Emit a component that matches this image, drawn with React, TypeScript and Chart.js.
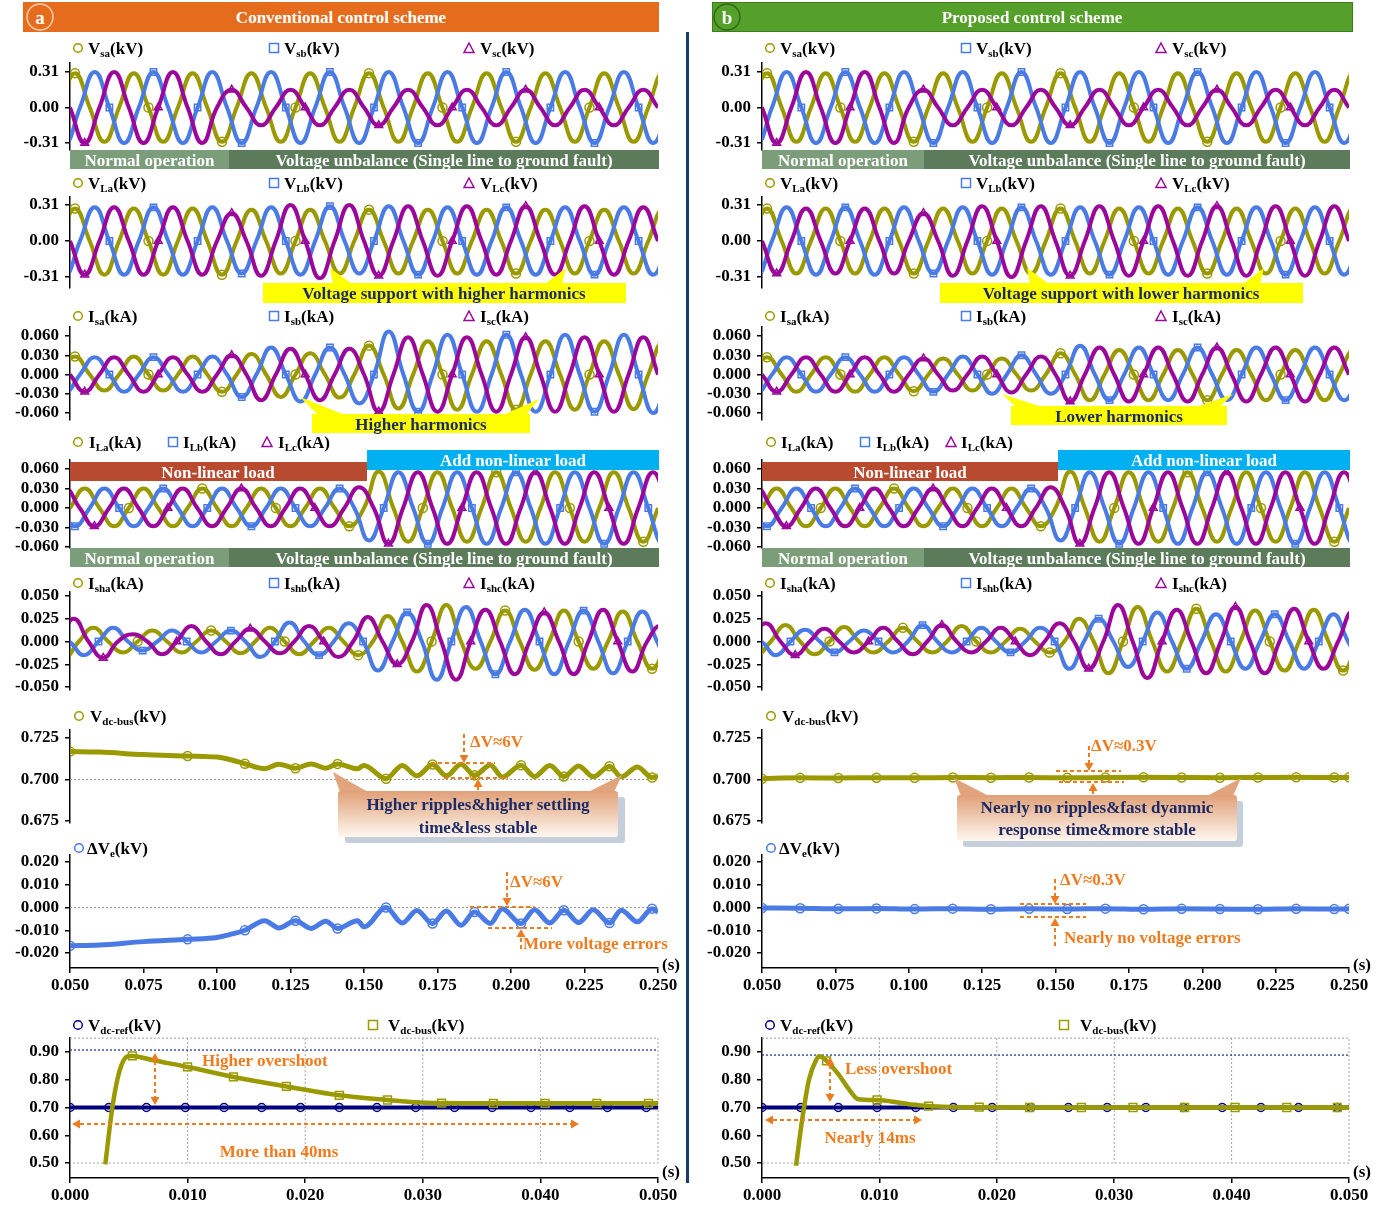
import React, { useEffect, useRef } from 'react';
import { Chart, registerables } from 'chart.js';

Chart.register(...registerables);

const FONT = '"Liberation Serif","Times New Roman",Times,serif';
const OLIVE = '#9a9a00';
const BLUE = '#4a7be4';
const MAGENTA = '#9b079b';
const NAVY = '#00007f';
const ORANGE = '#ef7b1f';
const INK = '#1c2a66';
const PERIOD = 0.02;

// ---------- tick labels ----------
const X_MAIN_TICKS = [0.05, 0.075, 0.1, 0.125, 0.15, 0.175, 0.2, 0.225, 0.25];
const X_START_TICKS = [0, 0.01, 0.02, 0.03, 0.04, 0.05];
const Y_V_TICKS = [0.31, 0, -0.31];
const Y_I_TICKS = [0.06, 0.03, 0, -0.03, -0.06];
const Y_SH_TICKS = [0.05, 0.025, 0, -0.025, -0.05];
const Y_DC_TICKS = [0.725, 0.7, 0.675];
const Y_E_TICKS = [0.02, 0.01, 0, -0.01, -0.02];
const Y_START_TICKS = [0.9, 0.8, 0.7, 0.6, 0.5];

// ---------- time of first extremum of each phase (a, b, c) ----------
const T0_V = [0.0517, 0.0484, 0.045];
const T0_IL = [0.045, 0.0517, 0.0483];
const T0_SH = [0.048, 0.0447, 0.0513];

// ---------- successive half-cycle extrema ----------
// source voltage (same in both schemes)
const VS_A = [0.30, -0.30, 0.30, -0.30, 0.30, -0.30, 0.30, -0.30, 0.30, -0.30, 0.30, -0.30, 0.30, -0.30, 0.30, -0.30, 0.30, -0.30, 0.30, -0.30, 0.30];
const VS_B = [-0.31, 0.31, -0.31, 0.31, -0.31, 0.31, -0.31, 0.31, -0.31, 0.31, -0.31, 0.31, -0.31, 0.31, -0.31, 0.31, -0.31, 0.31, -0.31, 0.31, -0.31];
const VS_C = [0.31, -0.31, 0.31, -0.31, 0.31, -0.31, 0.155, -0.155, 0.155, -0.155, 0.155, -0.155, 0.155, -0.155, 0.155, -0.155, 0.155, -0.155, 0.155, -0.155, 0.155, -0.155];

// load voltage
const VL_CONV_A = [0.28, -0.29, 0.28, -0.29, 0.28, -0.29, 0.27, -0.28, 0.27, -0.28, 0.27, -0.28, 0.27, -0.28, 0.27, -0.28, 0.27, -0.28, 0.27, -0.28, 0.27];
const VL_CONV_B = [-0.29, 0.29, -0.29, 0.29, -0.29, 0.29, -0.28, 0.29, -0.29, 0.30, -0.28, 0.30, -0.29, 0.29, -0.29, 0.29, -0.29, 0.29, -0.29, 0.29, -0.29];
const VL_CONV_C = [0.29, -0.29, 0.29, -0.29, 0.29, -0.29, 0.24, -0.30, 0.31, -0.32, 0.31, -0.30, 0.30, -0.30, 0.30, -0.29, 0.30, -0.29, 0.30, -0.29, 0.29, -0.29];
const VL_PROP_A = [0.28, -0.28, 0.28, -0.28, 0.28, -0.28, 0.28, -0.28, 0.28, -0.28, 0.28, -0.28, 0.28, -0.28, 0.28, -0.28, 0.28, -0.28, 0.28, -0.28, 0.28];
const VL_PROP_B = [-0.29, 0.29, -0.29, 0.29, -0.29, 0.29, -0.28, 0.29, -0.29, 0.29, -0.29, 0.29, -0.29, 0.29, -0.29, 0.29, -0.29, 0.29, -0.29, 0.29, -0.29];
const VL_PROP_C = [0.28, -0.28, 0.28, -0.28, 0.28, -0.28, 0.24, -0.30, 0.30, -0.31, 0.30, -0.30, 0.30, -0.30, 0.30, -0.30, 0.30, -0.30, 0.30, -0.30, 0.30, -0.30];

// source current
const IS_CONV_A = [0.028, -0.025, 0.028, -0.025, 0.028, -0.027, 0.032, -0.035, 0.033, -0.036, 0.045, -0.053, 0.052, -0.055, 0.052, -0.055, 0.052, -0.055, 0.052, -0.054, 0.050];
const IS_CONV_B = [-0.027, 0.027, -0.027, 0.027, -0.027, 0.028, -0.035, 0.042, -0.042, 0.042, -0.045, 0.067, -0.058, 0.062, -0.058, 0.062, -0.058, 0.062, -0.058, 0.062, -0.060];
const IS_CONV_C = [0.027, -0.027, 0.027, -0.027, 0.027, -0.027, 0.030, -0.040, 0.040, -0.040, 0.040, -0.058, 0.058, -0.058, 0.058, -0.058, 0.058, -0.058, 0.058, -0.058, 0.058, -0.058];
const IS_PROP_A = [0.027, -0.027, 0.027, -0.027, 0.027, -0.026, 0.025, -0.025, 0.025, -0.025, 0.033, -0.040, 0.038, -0.040, 0.038, -0.040, 0.038, -0.040, 0.038, -0.040, 0.038];
const IS_PROP_B = [-0.027, 0.027, -0.027, 0.027, -0.027, 0.027, -0.027, 0.028, -0.030, 0.030, -0.030, 0.045, -0.040, 0.042, -0.040, 0.042, -0.040, 0.042, -0.040, 0.042, -0.040];
const IS_PROP_C = [0.027, -0.027, 0.027, -0.027, 0.027, -0.027, 0.025, -0.025, 0.028, -0.028, 0.028, -0.042, 0.042, -0.042, 0.042, -0.042, 0.042, -0.042, 0.042, -0.042, 0.042, -0.042];

// load current (same in both schemes)
const IL_A = [-0.028, 0.030, -0.028, 0.030, -0.028, 0.030, -0.028, 0.030, -0.028, 0.030, -0.028, 0.056, -0.052, 0.055, -0.052, 0.055, -0.052, 0.055, -0.052, 0.055, -0.052, 0.055];
const IL_B = [-0.028, 0.030, -0.028, 0.030, -0.028, 0.030, -0.028, 0.030, -0.028, 0.030, -0.050, 0.055, -0.055, 0.055, -0.055, 0.055, -0.055, 0.055, -0.055, 0.055, -0.055];
const IL_C = [0.030, -0.028, 0.030, -0.028, 0.030, -0.028, 0.030, -0.028, 0.030, -0.028, 0.032, -0.055, 0.055, -0.055, 0.055, -0.055, 0.055, -0.055, 0.055, -0.055, 0.055];

// shunt current
const ISH_CONV_A = [-0.018, 0.015, -0.012, 0.012, -0.012, 0.012, -0.013, 0.015, -0.014, 0.015, -0.015, 0.028, -0.033, 0.040, -0.030, 0.034, -0.031, 0.034, -0.030, 0.033, -0.030];
const ISH_CONV_B = [0.005, -0.015, 0.015, -0.010, 0.012, -0.012, 0.012, -0.017, 0.021, -0.015, 0.020, -0.032, 0.032, -0.042, 0.038, -0.036, 0.035, -0.036, 0.034, -0.035, 0.033, -0.030];
const ISH_CONV_C = [0.025, -0.018, 0.008, -0.014, 0.017, -0.014, 0.014, -0.013, 0.017, -0.017, 0.027, -0.025, 0.040, -0.042, 0.035, -0.036, 0.032, -0.036, 0.035, -0.033, 0.018];
const ISH_PROP_A = [-0.015, 0.018, -0.014, 0.016, -0.012, 0.015, -0.012, 0.017, -0.012, 0.014, -0.012, 0.025, -0.035, 0.038, -0.033, 0.036, -0.033, 0.034, -0.032, 0.035, -0.032];
const ISH_PROP_B = [0.003, -0.015, 0.013, -0.012, 0.012, -0.012, 0.018, -0.012, 0.015, -0.012, 0.015, -0.030, 0.025, -0.028, 0.032, -0.030, 0.030, -0.030, 0.030, -0.030, 0.030, -0.025];
const ISH_PROP_C = [0.020, -0.015, 0.014, -0.012, 0.015, -0.014, 0.018, -0.012, 0.015, -0.015, 0.020, -0.030, 0.040, -0.040, 0.035, -0.035, 0.038, -0.035, 0.036, -0.030, 0.033];

// dc-bus voltage and its error, conventional scheme
const DC_CONV_T = [0.050, 0.060, 0.075, 0.090, 0.100, 0.104, 0.1095, 0.1162, 0.121, 0.1267, 0.132, 0.137, 0.141, 0.1478, 0.150, 0.1575, 0.163, 0.168, 0.1733, 0.178, 0.183, 0.1876, 0.193, 0.197, 0.2034, 0.208, 0.2132, 0.218, 0.223, 0.228, 0.2335, 0.2375, 0.243, 0.248, 0.250];
const VDC_CONV = [0.7168, 0.7165, 0.7150, 0.7142, 0.7135, 0.7122, 0.7095, 0.7065, 0.7092, 0.7068, 0.7094, 0.7068, 0.7094, 0.7065, 0.7085, 0.7005, 0.7085, 0.7022, 0.7090, 0.7022, 0.7092, 0.7025, 0.7088, 0.7015, 0.7086, 0.7018, 0.7084, 0.7018, 0.7082, 0.7016, 0.7080, 0.7016, 0.7075, 0.7012, 0.7022];
const DVE_CONV = [-0.0168, -0.0165, -0.0150, -0.0140, -0.0132, -0.0120, -0.0100, -0.0058, -0.0090, -0.0058, -0.0092, -0.0060, -0.0092, -0.0058, -0.0085, 0.0000, -0.0068, -0.0013, -0.0070, -0.0015, -0.0078, -0.0020, -0.0070, -0.0005, -0.0070, -0.0010, -0.0068, -0.0012, -0.0066, -0.0010, -0.0068, -0.0012, -0.0063, -0.0005, -0.0020];
// proposed scheme
const DC_PROP_T = [0.050, 0.063, 0.076, 0.089, 0.102, 0.115, 0.128, 0.141, 0.154, 0.167, 0.180, 0.193, 0.206, 0.219, 0.232, 0.245, 0.250];
const VDC_PROP = [0.7005, 0.7010, 0.7009, 0.7011, 0.7010, 0.7012, 0.7011, 0.7012, 0.7010, 0.7012, 0.7013, 0.7012, 0.7011, 0.7012, 0.7013, 0.7012, 0.7013];
const DVE_PROP = [-0.0002, -0.0003, -0.0006, -0.0004, -0.0007, -0.0005, -0.0008, -0.0006, -0.0007, -0.0005, -0.0008, -0.0006, -0.0007, -0.0008, -0.0006, -0.0007, -0.0006];

// start-up transient
const REF_T = [0, 0.0033, 0.0065, 0.0098, 0.0131, 0.0163, 0.0196, 0.0229, 0.0261, 0.0294, 0.0327, 0.0359, 0.0392, 0.0425, 0.0457, 0.049, 0.05];
const REF_V = [0.70, 0.70, 0.70, 0.70, 0.70, 0.70, 0.70, 0.70, 0.70, 0.70, 0.70, 0.70, 0.70, 0.70, 0.70, 0.70, 0.70];
const BUS_CONV_T = [0.0030, 0.0036, 0.0042, 0.0049, 0.0053, 0.0071, 0.0100, 0.0139, 0.0184, 0.0229, 0.0270, 0.0293, 0.0316, 0.0360, 0.0404, 0.0448, 0.0492, 0.0500];
const BUS_CONV_V = [0.495, 0.700, 0.830, 0.885, 0.886, 0.870, 0.846, 0.810, 0.776, 0.744, 0.727, 0.719, 0.716, 0.715, 0.715, 0.715, 0.715, 0.715];
const BUS_CONV_MARK = [4, 6, 7, 8, 9, 10, 12, 13, 14, 15, 16];
const BUS_PROP_T = [0.0029, 0.0034, 0.0040, 0.0046, 0.0049, 0.0055, 0.0065, 0.0075, 0.0082, 0.0098, 0.0110, 0.0125, 0.0142, 0.0160, 0.0185, 0.0228, 0.0272, 0.0316, 0.0360, 0.0403, 0.0447, 0.0490, 0.0500];
const BUS_PROP_V = [0.490, 0.650, 0.800, 0.870, 0.885, 0.868, 0.820, 0.760, 0.730, 0.727, 0.722, 0.712, 0.705, 0.702, 0.701, 0.700, 0.700, 0.700, 0.700, 0.700, 0.700, 0.700, 0.700];
const BUS_PROP_MARK = [5, 9, 12, 14, 15, 16, 17, 18, 19, 20, 21];
const OVERSHOOT_LIMIT = [0.907, 0.889];

// ---------- helpers ----------
function wave(t0: number, ext: number[]) {
  const pts = [{ x: t0 - PERIOD / 4, y: 0 }];
  ext.forEach((v, i) => {
    const t = t0 + (i * PERIOD) / 2;
    pts.push({ x: t, y: v });
    pts.push({ x: t + PERIOD / 4, y: 0 });
  });
  return pts;
}
function pairs(t: number[], v: number[]) {
  return t.map((x, i) => ({ x, y: v[i] }));
}
function line(data: any[], color: string, shape: string, every: number, offset: number, order: number, width = 4, r = 4.5, smooth = 'wave') {
  return {
    data,
    borderColor: color,
    borderWidth: width,
    cubicInterpolationMode: smooth === 'wave' ? 'default' : 'monotone',
    tension: 0.47,
    pointStyle: shape,
    pointRadius: (c: any) => (c.dataIndex % every === offset ? r : 0),
    pointBorderColor: color,
    pointBackgroundColor: 'rgba(255,255,255,0)',
    pointBorderWidth: 1.5,
    order,
    fill: false,
  };
}
function three(t0s: number[], a: number[], b: number[], c: number[]) {
  return [
    line(wave(t0s[0], a), OLIVE, 'circle', 5, 1, 2),
    line(wave(t0s[1], b), BLUE, 'rect', 3, 1, 1),
    line(wave(t0s[2], c), MAGENTA, 'triangle', 5, 3, 0),
  ];
}
function hLine(value: number, color: string, dash: number[], width: number) {
  return {
    id: 'hline',
    beforeDatasetsDraw(chart: any) {
      const { ctx, chartArea: a, scales } = chart;
      const y = scales.y.getPixelForValue(value);
      ctx.save();
      ctx.strokeStyle = color;
      ctx.lineWidth = width;
      ctx.setLineDash(dash);
      ctx.beginPath();
      ctx.moveTo(a.left, y);
      ctx.lineTo(a.right, y);
      ctx.stroke();
      ctx.restore();
    },
  };
}
const boxGrid = {
  id: 'boxGrid',
  beforeDatasetsDraw(chart: any) {
    const { ctx, scales } = chart;
    const x = scales.x, y = scales.y;
    const l = x.getPixelForValue(0), r = x.getPixelForValue(0.05);
    const t = y.getPixelForValue(0.95), b = y.getPixelForValue(0.5);
    ctx.save();
    ctx.strokeStyle = '#a0a0a0';
    ctx.lineWidth = 1;
    ctx.setLineDash([2, 2]);
    ctx.beginPath();
    ctx.moveTo(l, t); ctx.lineTo(r, t); ctx.lineTo(r, b); ctx.lineTo(l, b);
    for (const v of [0.01, 0.02, 0.03, 0.04]) {
      const px = x.getPixelForValue(v);
      ctx.moveTo(px, t); ctx.lineTo(px, b);
    }
    ctx.stroke();
    ctx.restore();
  },
};

const TICK_FONT = { family: FONT, size: 17, weight: 'bold' as const };

function Panel(p: any) {
  const ref = useRef<HTMLCanvasElement>(null);
  const PL = 64, PR = 34, PT = 20, XH = 28;
  const PB = p.xTicks ? 0 : 20;
  const k = (p.p1[0] - p.p2[0]) / (p.p2[1] - p.p1[1]);
  const yMax = p.p1[0] + (p.p1[1] - p.top) * k;
  const yMin = p.p1[0] - (p.bottom - p.p1[1]) * k;
  const w = p.width + PL + PR;
  const h = p.bottom - p.top + PT + (p.xTicks ? XH : PB);
  useEffect(() => {
    const chart = new Chart(ref.current as HTMLCanvasElement, {
      type: 'line',
      data: { datasets: p.datasets },
      options: {
        animation: false,
        responsive: false,
        events: [],
        layout: { padding: { left: 0, right: PR, top: PT, bottom: PB } },
        plugins: { legend: { display: false }, tooltip: { enabled: false } },
        scales: {
          x: {
            type: 'linear',
            min: p.xMin,
            max: p.xMax,
            display: !!p.xTicks,
            afterBuildTicks: (s: any) => {
              if (p.xTicks) s.ticks = p.xTicks.map((v: number) => ({ value: v }));
            },
            afterFit: (s: any) => { s.height = p.xTicks ? XH : 0; },
            ticks: { font: TICK_FONT, color: '#000', padding: 2, maxRotation: 0, autoSkip: false, callback: (v: any) => Number(v).toFixed(3) },
            grid: { drawOnChartArea: false, color: '#000', tickLength: 5, lineWidth: 1.5 },
            border: { color: '#000', width: 1.5 },
          },
          y: {
            type: 'linear',
            min: yMin,
            max: yMax,
            afterBuildTicks: (s: any) => { s.ticks = p.yTicks.map((v: number) => ({ value: v })); },
            afterFit: (s: any) => { s.width = PL; },
            ticks: { font: TICK_FONT, color: '#000', padding: 6, autoSkip: false, callback: (v: any) => Number(v).toFixed(p.yDec) },
            grid: { drawOnChartArea: false, color: '#000', tickLength: 5, lineWidth: 1.5 },
            border: { color: '#000', width: 1.5 },
          },
        },
      } as any,
      plugins: p.plugins || [],
    });
    return () => chart.destroy();
  }, []);
  return (
    <canvas
      ref={ref}
      width={w}
      height={h}
      style={{ position: 'absolute', left: p.left - PL, top: p.top - PT, width: w, height: h }}
    />
  );
}

function Column(props: { left: number; width: number; conv: boolean }) {
  const { left, width, conv } = props;
  const base = { left, width, xMin: 0.05, xMax: 0.25 };
  const dc = conv ? VDC_CONV : VDC_PROP;
  const dcT = conv ? DC_CONV_T : DC_PROP_T;
  const dve = conv ? DVE_CONV : DVE_PROP;
  const busT = conv ? BUS_CONV_T : BUS_PROP_T;
  const busV = conv ? BUS_CONV_V : BUS_PROP_V;
  const busMark = conv ? BUS_CONV_MARK : BUS_PROP_MARK;
  const dcEvery = conv ? 3 : 1;
  return (
    <>
      <Panel {...base} top={63} bottom={150} p1={[0.31, 72]} p2={[-0.31, 143]} yTicks={Y_V_TICKS} yDec={2}
        datasets={three(T0_V, VS_A, VS_B, VS_C)} />
      <Panel {...base} top={197} bottom={288} p1={[0.31, 205]} p2={[-0.31, 277]} yTicks={Y_V_TICKS} yDec={2}
        datasets={conv ? three(T0_V, VL_CONV_A, VL_CONV_B, VL_CONV_C) : three(T0_V, VL_PROP_A, VL_PROP_B, VL_PROP_C)} />
      <Panel {...base} top={327} bottom={420} p1={[0.06, 336]} p2={[-0.06, 413]} yTicks={Y_I_TICKS} yDec={3}
        datasets={conv ? three(T0_V, IS_CONV_A, IS_CONV_B, IS_CONV_C) : three(T0_V, IS_PROP_A, IS_PROP_B, IS_PROP_C)} />
      <Panel {...base} top={460} bottom={548} p1={[0.06, 469]} p2={[-0.06, 547]} yTicks={Y_I_TICKS} yDec={3}
        datasets={three(T0_IL, IL_A, IL_B, IL_C)} />
      <Panel {...base} top={592} bottom={690} p1={[0.05, 596]} p2={[-0.05, 687]} yTicks={Y_SH_TICKS} yDec={3}
        datasets={conv ? three(T0_SH, ISH_CONV_A, ISH_CONV_B, ISH_CONV_C) : three(T0_SH, ISH_PROP_A, ISH_PROP_B, ISH_PROP_C)} />
      <Panel {...base} top={730} bottom={823} p1={[0.725, 738]} p2={[0.675, 821]} yTicks={Y_DC_TICKS} yDec={3}
        plugins={[hLine(0.7, '#9a9a9a', [2, 2], 1)]}
        datasets={[line(pairs(dcT, dc), OLIVE, 'circle', dcEvery, 0, 0, 5, 4.5, 'mono')]} />
      <Panel {...base} top={855} bottom={968} p1={[0.02, 862]} p2={[-0.02, 953]} yTicks={Y_E_TICKS} yDec={3}
        xTicks={X_MAIN_TICKS}
        plugins={[hLine(0, '#9a9a9a', [2, 2], 1)]}
        datasets={[line(pairs(dcT, dve), BLUE, 'circle', dcEvery, 0, 0, 5, 4.5, 'mono')]} />
      <Panel left={left} width={width} xMin={0} xMax={0.05} top={1038} bottom={1178} p1={[0.9, 1052]} p2={[0.5, 1163]}
        yTicks={Y_START_TICKS} yDec={2} xTicks={X_START_TICKS}
        plugins={[boxGrid, hLine(conv ? OVERSHOOT_LIMIT[0] : OVERSHOOT_LIMIT[1], '#1a2a8a', [2, 2], 1.2)]}
        datasets={[
          {
            data: pairs(busT, busV), borderColor: OLIVE, borderWidth: 4.5, cubicInterpolationMode: 'monotone',
            pointStyle: 'rect', pointRadius: (c: any) => (busMark.includes(c.dataIndex) ? 5.5 : 0),
            pointBorderColor: OLIVE, pointBackgroundColor: 'rgba(255,255,255,0)', pointBorderWidth: 1.5, order: 0,
          },
          {
            data: pairs(REF_T, REF_V), borderColor: NAVY, borderWidth: 4, pointStyle: 'circle',
            pointRadius: (c: any) => (c.dataIndex < REF_T.length - 1 ? 4 : 0),
            pointBorderColor: NAVY, pointBackgroundColor: 'rgba(255,255,255,0)', pointBorderWidth: 1.5, order: 1,
          },
        ]} />
    </>
  );
}

// ---------- overlay text ----------
function Txt(p: any) {
  const mid = p.anchor === 'middle';
  return (
    <div
      style={{
        position: 'absolute', left: p.x, top: p.y,
        transform: mid ? 'translate(-50%,-50%)' : 'translate(0,-50%)',
        fontFamily: FONT, fontSize: p.size || 17, fontWeight: 'bold', color: p.color || '#000',
        whiteSpace: 'nowrap', lineHeight: 1, zIndex: 3, textAlign: 'center',
      }}
    >
      {p.children}
    </div>
  );
}

function Leg(p: { x: number; y: number; shape: string; color: string; main: string; sub: string; unit: string; tx: number }) {
  const { x, y, shape, color } = p;
  return (
    <>
      <svg width={14} height={14} style={{ position: 'absolute', left: x - 7, top: y - 7, zIndex: 3 }}>
        {shape === 'circle' && <circle cx={7} cy={7} r={4.3} fill="none" stroke={color} strokeWidth={1.5} />}
        {shape === 'rect' && <rect x={2.5} y={2.5} width={9} height={9} fill="none" stroke={color} strokeWidth={1.5} />}
        {shape === 'triangle' && <polygon points="7,2 12,11.5 2,11.5" fill="none" stroke={color} strokeWidth={1.5} />}
      </svg>
      <Txt x={p.tx} y={y}>
        {p.main}
        <sub style={{ fontSize: 11, verticalAlign: '-0.3em', lineHeight: 0 }}>{p.sub}</sub>
        {p.unit}
      </Txt>
    </>
  );
}

function Arrow(p: { x1: number; y1: number; x2: number; y2: number; a?: boolean; b?: boolean }) {
  const { x1, y1, x2, y2 } = p;
  const a = !!p.a, b = p.b !== false;
  const ang = Math.atan2(y2 - y1, x2 - x1);
  const L = 8, W = 4.5;
  const head = (x: number, y: number, an: number) => {
    const bx = x - L * Math.cos(an), by = y - L * Math.sin(an);
    return `${x},${y} ${bx + W * Math.sin(an)},${by - W * Math.cos(an)} ${bx - W * Math.sin(an)},${by + W * Math.cos(an)}`;
  };
  const sx = a ? x1 + L * Math.cos(ang) : x1, sy = a ? y1 + L * Math.sin(ang) : y1;
  const ex = b ? x2 - L * Math.cos(ang) : x2, ey = b ? y2 - L * Math.sin(ang) : y2;
  return (
    <g>
      <line x1={sx} y1={sy} x2={ex} y2={ey} stroke={ORANGE} strokeWidth={2} strokeDasharray="4 3" />
      {b && <polygon points={head(x2, y2, ang)} fill={ORANGE} />}
      {a && <polygon points={head(x1, y1, ang + Math.PI)} fill={ORANGE} />}
    </g>
  );
}
function Dash(p: { x1: number; x2: number; y: number }) {
  return <line x1={p.x1} y1={p.y} x2={p.x2} y2={p.y} stroke={ORANGE} strokeWidth={2} strokeDasharray="4 3" />;
}

const LEG_V = [
  { shape: 'circle', color: OLIVE, sub: 'a' },
  { shape: 'rect', color: BLUE, sub: 'b' },
  { shape: 'triangle', color: MAGENTA, sub: 'c' },
];

function Legends(p: { o: number }) {
  const o = p.o;
  const wide = [78 + o, 274 + o, 469 + o];
  const wideT = [88 + o, 284 + o, 480 + o];
  const il = o === 0 ? [78, 173, 267] : [771, 865, 951];
  const ilT = o === 0 ? [89, 183, 278] : [781, 876, 961];
  const rows = [
    { y: 48, main: 'V', pre: 's', unit: '(kV)', xs: wide, ts: wideT },
    { y: 183, main: 'V', pre: 'L', unit: '(kV)', xs: wide, ts: wideT },
    { y: 316, main: 'I', pre: 's', unit: '(kA)', xs: wide, ts: wideT },
    { y: 442, main: 'I', pre: 'L', unit: '(kA)', xs: il, ts: ilT },
    { y: 583, main: 'I', pre: 'sh', unit: '(kA)', xs: wide, ts: wideT },
  ];
  return (
    <>
      {rows.map((r, i) =>
        LEG_V.map((l, j) => (
          <Leg key={`${i}-${j}`} x={r.xs[j]} y={r.y} tx={r.ts[j]} shape={l.shape} color={l.color}
            main={r.main} sub={r.pre + l.sub} unit={r.unit} />
        ))
      )}
      <Leg x={79 + o} y={716} tx={90 + o} shape="circle" color={OLIVE} main="V" sub="dc-bus" unit="(kV)" />
      <Leg x={79 + o} y={848} tx={87 + o} shape="circle" color={BLUE} main="ΔV" sub="e" unit="(kV)" />
      <Leg x={78 + o} y={1025} tx={88 + o} shape="circle" color={NAVY} main="V" sub="dc-ref" unit="(kV)" />
      <Leg x={(o === 0 ? 373 : 1064)} y={1025} tx={(o === 0 ? 388 : 1080)} shape="rect" color={OLIVE} main="V" sub="dc-bus" unit="(kV)" />
    </>
  );
}

function StatusBar(p: { y: number; l: number; s: number; r: number }) {
  return (
    <>
      <div style={{ position: 'absolute', left: p.l, top: p.y, width: p.s - p.l, height: 19, background: '#7b9d7a', zIndex: 2 }} />
      <div style={{ position: 'absolute', left: p.s, top: p.y, width: p.r - p.s, height: 19, background: '#5b7b5b', zIndex: 2 }} />
      <Txt x={(p.l + p.s) / 2} y={p.y + 10} anchor="middle" color="#fff">Normal operation</Txt>
      <Txt x={(p.s + p.r) / 2} y={p.y + 10} anchor="middle" color="#fff">Voltage unbalance (Single line to ground fault)</Txt>
    </>
  );
}

function Overlay() {
  const Y = '#ffff00';
  return (
    <>
      <svg width={1395} height={1207} style={{ position: 'absolute', left: 0, top: 0, zIndex: 2 }}>
        <defs>
          <linearGradient id="peach" x1="0" y1="0" x2="0" y2="1">
            <stop offset="0" stopColor="#e0a077" />
            <stop offset="1" stopColor="#fff7f0" />
          </linearGradient>
        </defs>
        {/* banners */}
        <rect x={23} y={2} width={636} height={30} fill="#e46c1c" />
        <circle cx={40} cy={17} r={13} fill="none" stroke="#f6cdb0" strokeWidth={1.5} />
        <rect x={712.5} y={2.5} width={640} height={29} fill="#55a02a" stroke="#3d7d1c" strokeWidth={1} />
        <circle cx={727} cy={17} r={13} fill="none" stroke="#2f6a14" strokeWidth={1.5} />
        <rect x={686} y={32} width={3} height={1151} fill="#1f3a6e" />

        {/* yellow callouts */}
        <rect x={263} y={283} width={363} height={20} fill={Y} />
        <polygon points="330,268 333,284 352,284" fill={Y} />
        <polygon points="566,268 545,284 562,284" fill={Y} />
        <rect x={940} y={283} width={363} height={20} fill={Y} />
        <polygon points="1027,268 1030,284 1049,284" fill={Y} />
        <polygon points="1264,268 1243,284 1260,284" fill={Y} />
        <rect x={312} y={414} width={218} height={19} fill={Y} />
        <polygon points="300,397 318,415 345,415" fill={Y} />
        <polygon points="539,399 503,415 526,415" fill={Y} />
        <rect x={1011} y={406} width={216} height={19} fill={Y} />
        <polygon points="1002,394 1016,407 1042,407" fill={Y} />
        <polygon points="1233,394 1197,407 1220,407" fill={Y} />

        {/* load bars */}
        <rect x={70} y={462} width={297} height={19} fill="#b84a30" />
        <rect x={367} y={450} width={292} height={20} fill="#00b0f0" />
        <rect x={762} y={462} width={296} height={19} fill="#b84a30" />
        <rect x={1058} y={450} width={292} height={20} fill="#00b0f0" />

        {/* dc-bus callouts */}
        <rect x={345} y={797} width={280} height={46} rx={3} fill="#c5cedb" />
        <polygon points="333,772 340,792 368,792" fill="#e2a47c" />
        <polygon points="622,775 588,792 614,792" fill="#e2a47c" />
        <rect x={338} y={791} width={280} height={46} rx={3} fill="url(#peach)" />
        <rect x={963} y={801} width={280} height={46} rx={3} fill="#c5cedb" />
        <polygon points="954,778 961,796 989,796" fill="#e2a47c" />
        <polygon points="1241,778 1207,796 1233,796" fill="#e2a47c" />
        <rect x={957} y={795} width={280} height={46} rx={3} fill="url(#peach)" />

        {/* ripple annotations, conventional */}
        <Dash x1={431} x2={495} y={763} />
        <Dash x1={444} x2={508} y={778} />
        <Arrow x1={464} y1={734} x2={464} y2={763} />
        <Arrow x1={478} y1={790} x2={478} y2={779} />
        <Dash x1={470} x2={535} y={907} />
        <Dash x1={488} x2={552} y={928} />
        <Arrow x1={507} y1={872} x2={507} y2={906} />
        <Arrow x1={521} y1={949} x2={521} y2={929} />
        {/* ripple annotations, proposed */}
        <Dash x1={1056} x2={1121} y={771} />
        <Dash x1={1059} x2={1124} y={782} />
        <Arrow x1={1089} y1={746} x2={1089} y2={771} />
        <Arrow x1={1093} y1={794} x2={1093} y2={783} />
        <Dash x1={1020} x2={1086} y={904} />
        <Dash x1={1020} x2={1086} y={917} />
        <Arrow x1={1055} y1={879} x2={1055} y2={904} />
        <Arrow x1={1055} y1={946} x2={1055} y2={918} />

        {/* start-up annotations */}
        <Arrow x1={155} y1={1053} x2={155} y2={1105} a />
        <Arrow x1={72} y1={1124} x2={579} y2={1124} a />
        <Arrow x1={830} y1={1057} x2={830} y2={1102} a />
        <Arrow x1={765} y1={1120} x2={922} y2={1120} a />
      </svg>

      {/* banner texts */}
      <Txt x={40} y={17} anchor="middle" color="#fff" size={19}>a</Txt>
      <Txt x={341} y={17} anchor="middle" color="#fff">Conventional control scheme</Txt>
      <Txt x={727} y={17} anchor="middle" color="#fff" size={19}>b</Txt>
      <Txt x={1032} y={17} anchor="middle" color="#fff">Proposed control scheme</Txt>

      <StatusBar y={150} l={70} s={229} r={659} />
      <StatusBar y={548} l={70} s={229} r={659} />
      <StatusBar y={150} l={762} s={924} r={1350} />
      <StatusBar y={548} l={762} s={924} r={1350} />

      <Txt x={444} y={293} anchor="middle" color={INK}>Voltage support with higher harmonics</Txt>
      <Txt x={1121} y={293} anchor="middle" color={INK}>Voltage support with lower harmonics</Txt>
      <Txt x={421} y={424} anchor="middle" color={INK}>Higher harmonics</Txt>
      <Txt x={1119} y={416} anchor="middle" color={INK}>Lower harmonics</Txt>

      <Txt x={218} y={472} anchor="middle" color="#fff">Non-linear load</Txt>
      <Txt x={513} y={460} anchor="middle" color="#fff">Add non-linear load</Txt>
      <Txt x={910} y={472} anchor="middle" color="#fff">Non-linear load</Txt>
      <Txt x={1204} y={460} anchor="middle" color="#fff">Add non-linear load</Txt>

      <Txt x={478} y={804} anchor="middle" color={INK}>Higher ripples&amp;higher settling</Txt>
      <Txt x={478} y={827} anchor="middle" color={INK}>time&amp;less stable</Txt>
      <Txt x={1097} y={807} anchor="middle" color={INK}>Nearly no ripples&amp;fast dyanmic</Txt>
      <Txt x={1097} y={829} anchor="middle" color={INK}>response time&amp;more stable</Txt>

      <Txt x={470} y={741} color={ORANGE}>ΔV≈6V</Txt>
      <Txt x={510} y={881} color={ORANGE}>ΔV≈6V</Txt>
      <Txt x={523} y={943} color={ORANGE}>More voltage errors</Txt>
      <Txt x={1091} y={745} color={ORANGE}>ΔV≈0.3V</Txt>
      <Txt x={1060} y={879} color={ORANGE}>ΔV≈0.3V</Txt>
      <Txt x={1064} y={937} color={ORANGE}>Nearly no voltage errors</Txt>

      <Txt x={202} y={1060} color={ORANGE}>Higher overshoot</Txt>
      <Txt x={279} y={1151} anchor="middle" color={ORANGE}>More than 40ms</Txt>
      <Txt x={845} y={1068} color={ORANGE}>Less overshoot</Txt>
      <Txt x={870} y={1137} anchor="middle" color={ORANGE}>Nearly 14ms</Txt>

      <Txt x={662} y={964}>(s)</Txt>
      <Txt x={1353} y={964}>(s)</Txt>
      <Txt x={662} y={1171}>(s)</Txt>
      <Txt x={1353} y={1171}>(s)</Txt>

      <Legends o={0} />
      <Legends o={692} />
    </>
  );
}

export default function App() {
  useEffect(() => {
    document.body.style.margin = '0';
    document.body.style.overflow = 'hidden';
  }, []);
  return (
    <div
      style={{
        position: 'absolute', left: 0, top: 0, width: 1395, height: 1207,
        overflow: 'hidden', background: '#fff', fontFamily: FONT,
      }}
    >
      <Column left={70} width={588} conv={true} />
      <Column left={762} width={587} conv={false} />
      <Overlay />
    </div>
  );
}
